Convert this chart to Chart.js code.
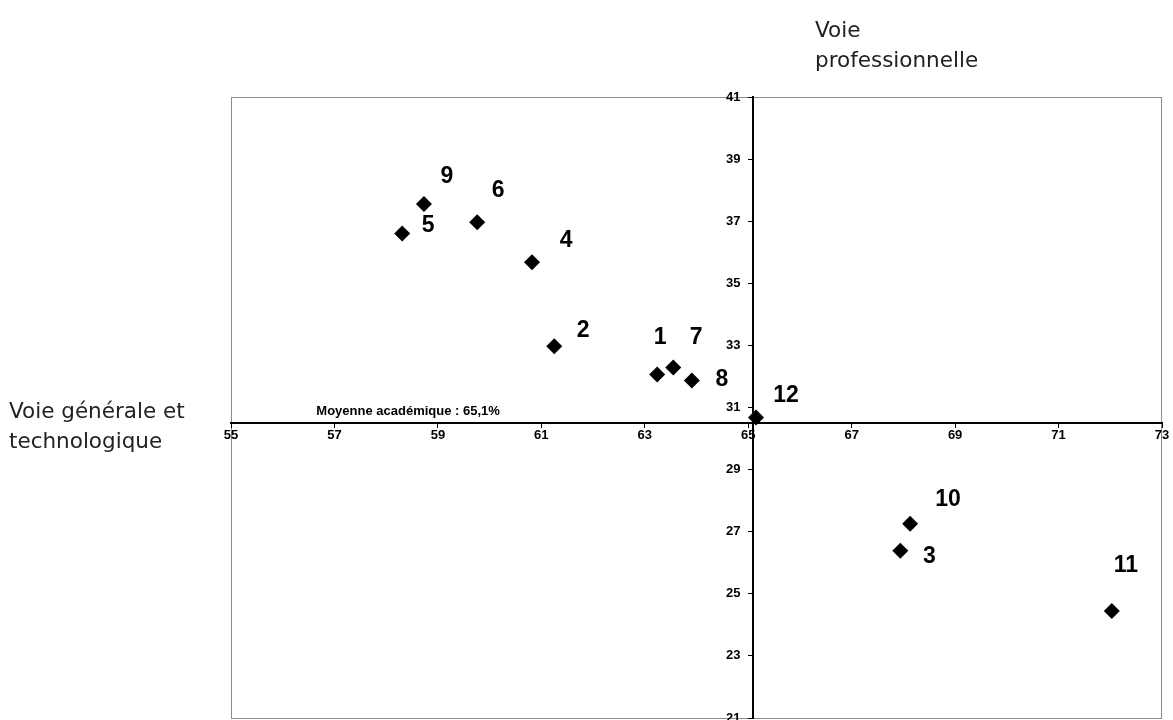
<!DOCTYPE html>
<html>
<head>
<meta charset="utf-8">
<script src="https://cdn.jsdelivr.net/npm/chart.js@4/dist/chart.umd.min.js"></script>
<style>
  html, body { margin: 0; padding: 0; background: #fff; overflow: hidden; }
  #wrap { width: 1173px; height: 720px; overflow: hidden; }
</style>
</head>
<body>
<div id="wrap"><canvas id="chart" width="1173" height="726"></canvas></div>
<script>
// academies: taux voie générale et techno (x) vs voie professionnelle (y)
const pointLabels = ['1', '2', '3', '4', '5', '6', '7', '8', '9', '10', '11', '12'];
const voieGenerale = [63.24, 61.25, 67.94, 60.82, 58.31, 59.76, 63.55, 63.91, 58.73, 68.13, 72.03, 65.15];
const voiePro = [32.06, 32.97, 26.39, 35.68, 36.6, 36.97, 32.29, 31.87, 37.55, 27.26, 24.45, 30.68];

// axes cross at the academic averages
const moyenneGenerale = 65.1;
const moyennePro = 30.5;
const xTicks = [55, 57, 59, 61, 63, 65, 67, 69, 71, 73];
const yTicks = [21, 23, 25, 27, 29, 31, 33, 35, 37, 39, 41];

// where each number sits relative to its diamond (px)
const labelOffsets = [[3, -37], [29, -16], [29, 6], [34, -22], [26, -8], [21, -31],
                      [23, -30], [30, -1], [23, -27], [38, -24], [14, -45], [30, -22]];

const points = voieGenerale.map((x, i) => ({ x: x, y: voiePro[i] }));

const ARIAL = '"Liberation Sans", Arial, sans-serif';
const tickFont = { family: ARIAL, size: 13, weight: 'bold' };
// y labels sit a little left of the vertical axis (in x units, ~13px)
const yLabelShift = 0.25;

const frameAndText = {
  id: 'frameAndText',
  beforeDraw(chart) {
    const { ctx, chartArea: a } = chart;
    ctx.save();
    ctx.strokeStyle = '#8c8c8c';
    ctx.lineWidth = 1;
    ctx.strokeRect(a.left + 0.5, a.top + 0.5, a.right - a.left - 1, a.bottom - a.top);
    ctx.restore();
  },
  afterDatasetsDraw(chart) {
    const { ctx } = chart;
    const meta = chart.getDatasetMeta(0);
    ctx.save();
    ctx.fillStyle = '#000';
    ctx.font = 'bold 23px ' + ARIAL;
    ctx.textAlign = 'center';
    ctx.textBaseline = 'middle';
    meta.data.forEach((el, i) => {
      const off = labelOffsets[i];
      ctx.fillText(pointLabels[i], el.x + off[0], el.y + off[1]);
    });

    const xs = chart.scales.x, ys = chart.scales.y;
    ctx.font = 'bold 13px ' + ARIAL;
    ctx.textAlign = 'left';
    ctx.fillText('Moyenne académique : 65,1%', xs.getPixelForValue(56.65), ys.getPixelForValue(moyennePro) - 12);

    ctx.font = '21.5px "DejaVu Sans", Verdana, sans-serif';
    ctx.fillStyle = '#222';
    ctx.textBaseline = 'alphabetic';
    ctx.fillText('Voie', 815, 37);
    ctx.fillText('professionnelle', 815, 67);
    ctx.fillText('Voie générale et', 9, 418);
    ctx.fillText('technologique', 9, 448);
    ctx.restore();
  }
};

new Chart(document.getElementById('chart'), {
  type: 'scatter',
  data: {
    datasets: [{
      data: points,
      pointStyle: 'rectRot',
      pointRadius: 8,
      pointHoverRadius: 8,
      backgroundColor: '#000',
      borderColor: '#000',
      borderWidth: 0
    }]
  },
  options: {
    responsive: false,
    animation: false,
    events: [],
    layout: { padding: { left: 231, right: 11, top: 97, bottom: 2 } },
    plugins: { legend: { display: false }, tooltip: { enabled: false } },
    scales: {
      x: {
        type: 'linear',
        min: 55, max: 73,
        position: { y: moyennePro },
        afterBuildTicks: s => { s.ticks = xTicks.map(v => ({ value: v })); },
        grid: { drawOnChartArea: false, drawTicks: true, tickLength: 4, tickColor: '#000', tickWidth: 1 },
        border: { display: true, color: '#000', width: 2 },
        ticks: { color: '#000', padding: 1, maxRotation: 0, autoSkip: false, font: tickFont }
      },
      y: {
        type: 'linear',
        min: 21, max: 41,
        position: { x: moyenneGenerale },
        afterBuildTicks: s => { s.ticks = yTicks.map(v => ({ value: v })); },
        grid: { drawOnChartArea: false, drawTicks: true, tickLength: 4, tickColor: '#000', tickWidth: 1 },
        border: { display: true, color: '#000', width: 2 },
        ticks: { display: false, padding: 0 }
      },
      yLabels: {
        type: 'linear',
        axis: 'y',
        min: 21, max: 41,
        position: { x: moyenneGenerale - yLabelShift },
        afterBuildTicks: s => { s.ticks = yTicks.map(v => ({ value: v })); },
        grid: { display: false },
        border: { display: false },
        ticks: { color: '#000', padding: 0, autoSkip: false,
                 font: { family: ARIAL, size: 13, weight: 'bold', lineHeight: 0.2 } }
      }
    }
  },
  plugins: [frameAndText]
});
</script>
</body>
</html>
